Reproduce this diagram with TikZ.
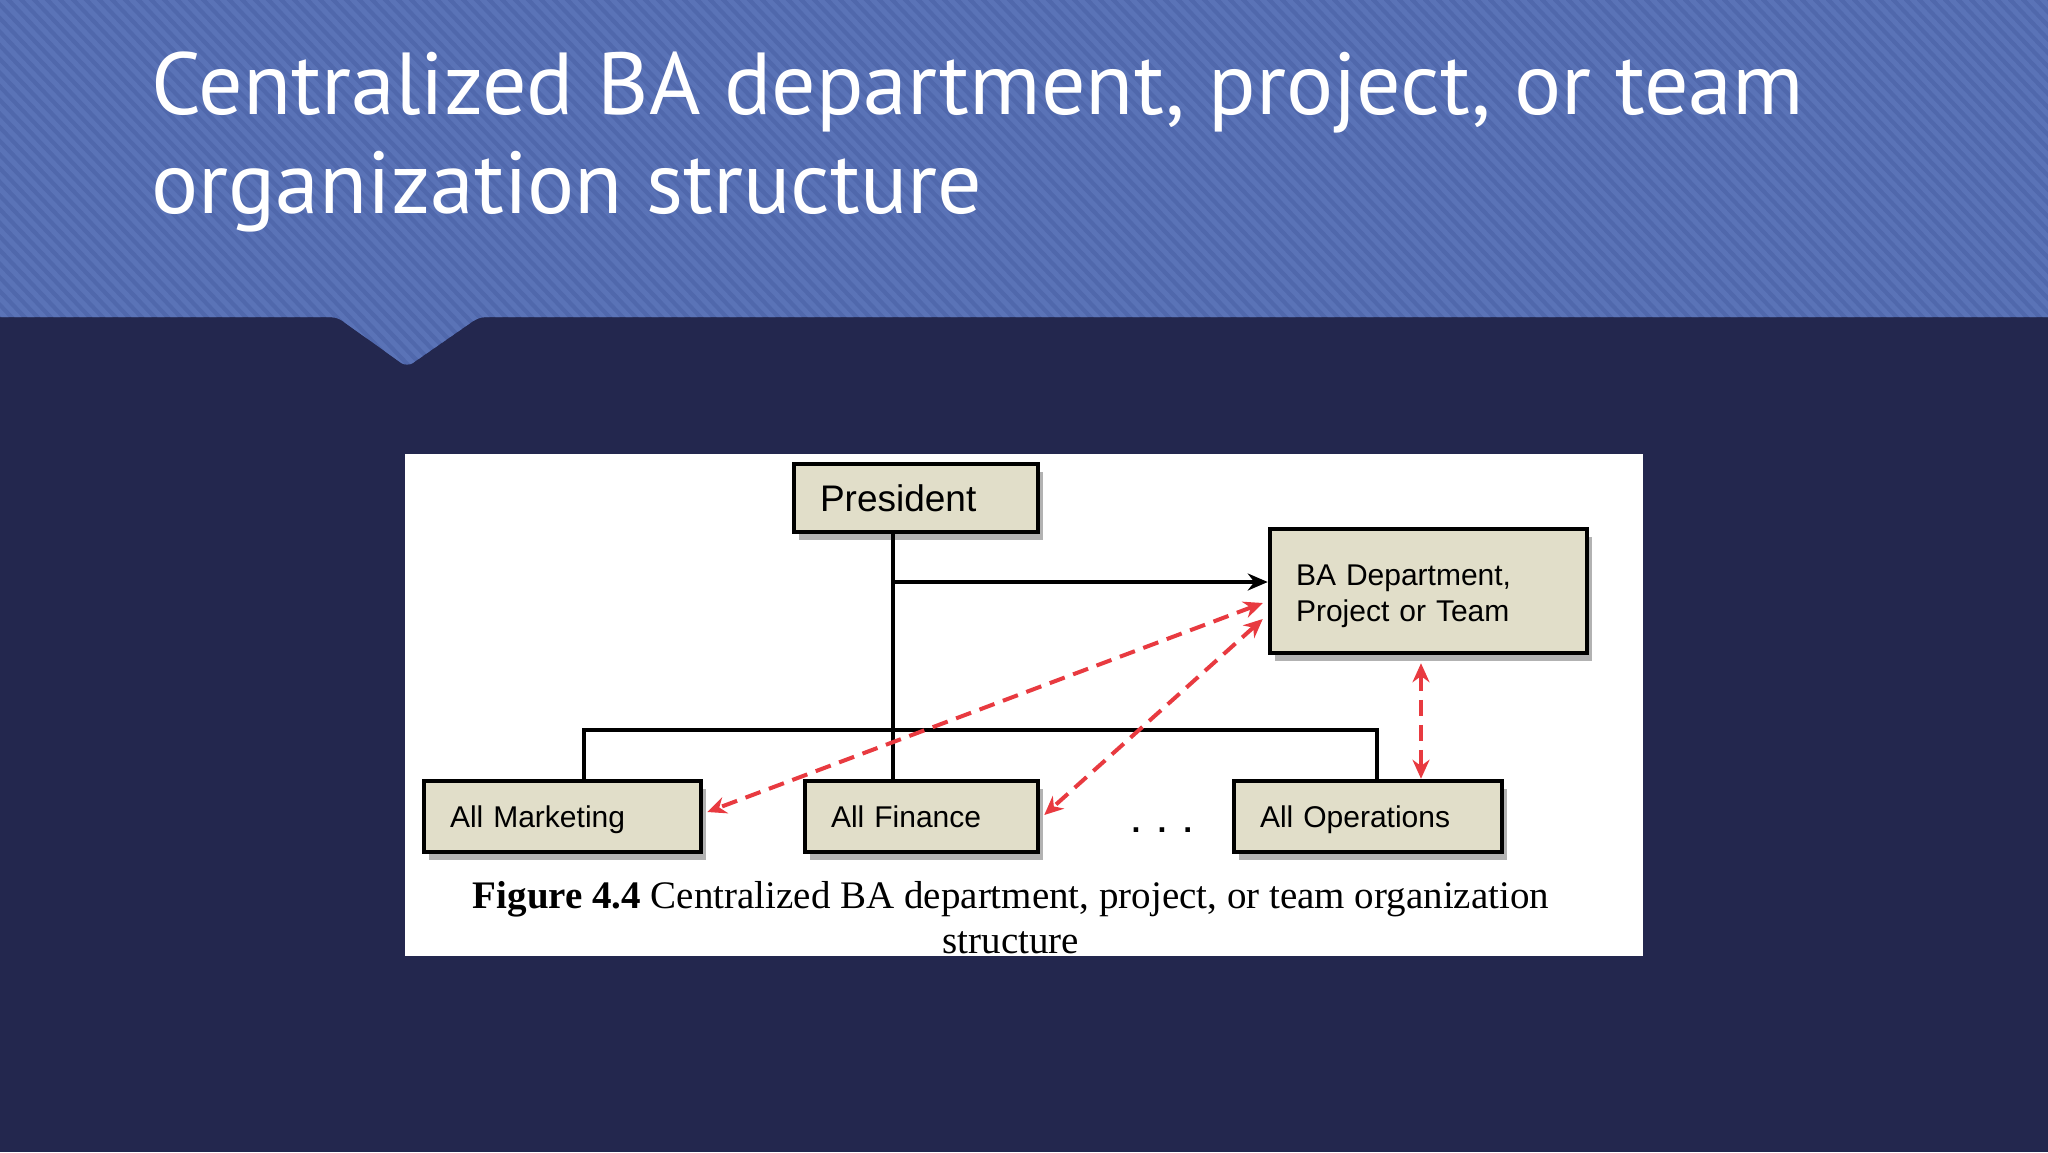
\documentclass[tikz,border=0pt]{standalone}
\usepackage{fontspec}
\setmainfont{Liberation Sans}
\newfontfamily\titlefont{PT Sans}
\newfontfamily\capfont{Liberation Serif}
\usetikzlibrary{shadows,arrows.meta}
\definecolor{navy}{RGB}{35,39,78}
\definecolor{band}{RGB}{80,104,172}
\definecolor{stripe}{RGB}{90,115,183}
\definecolor{boxfill}{RGB}{225,222,201}
\definecolor{redline}{RGB}{232,58,64}
\tikzset{
  orgbox/.style={draw=black, line width=4.5pt, fill=boxfill, inner xsep=26pt, inner ysep=0pt,
    align=left, font=\fontsize{30}{36}\selectfont,
    drop shadow={shadow xshift=5pt, shadow yshift=-8pt, opacity=0.3, fill=black}},
  single/.style={text height=21pt, text depth=0pt},
  conn/.style={line width=3.5pt, draw=black},
  relarrow/.style={line width=4pt, draw=redline, dash pattern=on 16pt off 9pt,
    {Stealth[length=19pt,width=17pt,fill=redline]}-{Stealth[length=19pt,width=17pt,fill=redline]}},
}
\begin{document}
\begin{tikzpicture}[x=1pt,y=-1pt]
\useasboundingbox (0,0) rectangle (2048,1152);
\fill[navy] (0,0) rectangle (2048,1152);
% title band with notch
\begin{scope}
  \clip[rounded corners=7pt] (-30,-30) -- (2078,-30) -- (2078,317) -- (479,317) -- (407,367) -- (337,317) -- (-30,317) -- cycle;
  \fill[band] (-30,-30) rectangle (2078,400);
  \foreach \s in {-420,-407,...,2100} {
    \draw[stripe, line width=5pt] (\s,-20) -- (\s+400,400);
  }
\end{scope}
\node[anchor=base west, text=white, align=left, font=\titlefont\fontsize{88}{99}\selectfont] (title) at (148,213)
  {Centralized BA department, project, or team\\organization structure};
% figure
\fill[white] (405,454) rectangle (1643,956);
\node[orgbox, text height=26pt, text depth=0pt, font=\fontsize{37}{40}\selectfont, text width=192pt, minimum height=68pt] (pres) at (916,498) {President};
\node[orgbox, text width=265pt, minimum height=124pt, text depth=31pt] (ba) at (1428.5,591) {BA Department,\\Project or Team};
\node[orgbox, single, text width=225pt, minimum height=71pt] (mkt) at (562.5,816.5) {All Marketing};
\node[orgbox, single, text width=181pt, minimum height=71pt] (fin) at (921.5,816.5) {All Finance};
\node[orgbox, single, text width=216pt, minimum height=71pt] (ops) at (1368,816.5) {All Operations};
\node[font=\bfseries\fontsize{32}{36}\selectfont, anchor=base] (dots) at (1162,832) {.\hspace{17pt}.\hspace{17pt}.};
\coordinate (vx) at (893,582);
\coordinate (busL) at (584,730);
\coordinate (busR) at (1377,730);
\draw[conn] (pres.south -| vx) -- (fin.north -| vx);
\draw[conn, -{Stealth[length=20pt,width=17pt]}] (vx) -- (vx -| ba.west);
\draw[conn] (mkt.north -| busL) -- (busL) -- (busR) -- (ops.north -| busR);
\draw[relarrow] ([xshift=-5pt]ba.west |- 0,603) -- ([xshift=4pt]mkt.east |- 0,812);
\draw[relarrow] ([xshift=-5pt]ba.west |- 0,619) -- ([xshift=4pt]fin.east |- 0,815);
\draw[relarrow] ([yshift=-8pt]ba.south -| 1421,0) -- (ops.north -| 1421,0);
\node[font=\capfont\fontsize{39}{45}\selectfont, align=center, anchor=base] (caption) at (1011,953)
  {\textbf{Figure 4.4} Centralized BA department, project, or team organization\\structure};
\end{tikzpicture}
\end{document}
